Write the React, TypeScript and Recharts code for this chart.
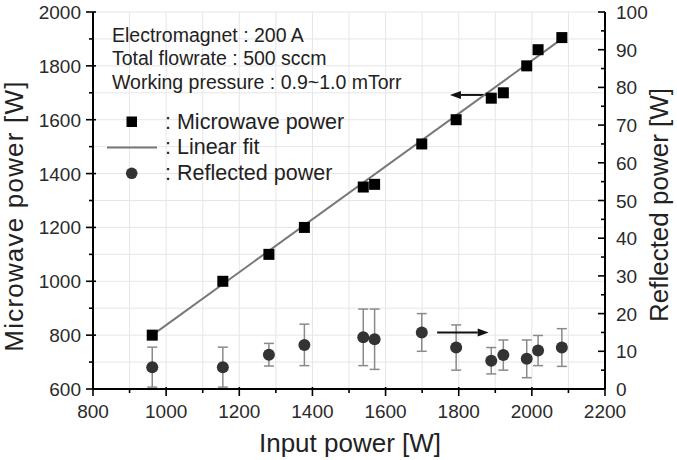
import React from 'react';
import {
  ComposedChart,
  Scatter,
  XAxis,
  YAxis,
  CartesianGrid,
  ErrorBar,
  ReferenceLine,
} from 'recharts';

// measured points
const inputPower = [962, 1155, 1281, 1378, 1539, 1570, 1699, 1793, 1889, 1922, 1986, 2017, 2082];
const microwavePower = [800, 1000, 1100, 1200, 1350, 1360, 1510, 1600, 1680, 1700, 1800, 1860, 1905];
const reflectedPower = [5.8, 5.8, 9.1, 11.7, 13.7, 13.2, 15, 11, 7.5, 9, 8, 10.2, 11];
const reflectedErr = [5.3, 5.3, 3, 5.5, 7.5, 8, 5, 6, 3.5, 4, 5, 4, 5];

// linear fit end points
const fitInput = [962, 2082];
const fitPower = [800, 1900];

// axis ticks (labels on every other one)
const xTicks = [800, 900, 1000, 1100, 1200, 1300, 1400, 1500, 1600, 1700, 1800, 1900, 2000, 2100, 2200];
const leftTicks = [600, 700, 800, 900, 1000, 1100, 1200, 1300, 1400, 1500, 1600, 1700, 1800, 1900, 2000];
const rightTicks = [0, 5, 10, 15, 20, 25, 30, 35, 40, 45, 50, 55, 60, 65, 70, 75, 80, 85, 90, 95, 100];

// arrows pointing at the axis each series belongs to
const leftArrow = { from: 1888, to: 1776, level: 1692 };
const rightArrow = { from: 1741, to: 1882, level: 15 };

const notes = ['Electromagnet : 200 A', 'Total flowrate : 500 sccm', 'Working pressure : 0.9~1.0 mTorr'];
const legendLabels = [': Microwave power', ': Linear fit', ': Reflected power'];

const squareData = inputPower.map((x, i) => ({ x, y: microwavePower[i] }));
const circleData = inputPower.map((x, i) => ({ x, y: reflectedPower[i], err: reflectedErr[i] }));
const fitData = fitInput.map((x, i) => ({ x, y: fitPower[i] }));

const FONT = '"Liberation Sans", Arial, Helvetica, sans-serif';
const TICK_COLOR = '#2a2a2a';
const W = 677;
const H = 460;

function BottomTick({ x, y, payload }: any) {
  const major = payload.value % 200 === 0;
  return (
    <g>
      <line x1={x} x2={x} y1={y - (major ? 2 : 0)} y2={y + (major ? 7 : 4)} stroke="#000" strokeWidth={1.6} />
      {major && (
        <text x={x} y={y + 29} textAnchor="middle" fontSize={19} fill={TICK_COLOR} fontFamily={FONT}>
          {payload.value}
        </text>
      )}
    </g>
  );
}

function TopTick({ x, y }: any) {
  return <line x1={x} x2={x} y1={y} y2={y + 5} stroke="#000" strokeWidth={1.6} />;
}

function LeftTick({ x, y, payload }: any) {
  const major = payload.value % 200 === 0;
  return (
    <g>
      <line x1={x - (major ? 7 : 4)} x2={x + (major ? 3 : 0)} y1={y} y2={y} stroke="#000" strokeWidth={1.6} />
      {major && (
        <text x={x - 12} y={y + 7} textAnchor="end" fontSize={19} fill={TICK_COLOR} fontFamily={FONT}>
          {payload.value}
        </text>
      )}
    </g>
  );
}

function RightTick({ x, y, payload }: any) {
  const major = payload.value % 10 === 0;
  return (
    <g>
      <line x1={x - (major ? 7 : 4)} x2={x} y1={y} y2={y} stroke="#000" strokeWidth={1.6} />
      {major && (
        <text x={x + 11} y={y + 7} textAnchor="start" fontSize={19} fill={TICK_COLOR} fontFamily={FONT}>
          {payload.value}
        </text>
      )}
    </g>
  );
}

function Arrow(props: any) {
  const { x1, y1, x2, y2 } = props;
  const dir = x2 > x1 ? 1 : -1;
  const head = 11;
  return (
    <g>
      <line x1={x1} y1={y1} x2={x2 - dir * head} y2={y2} stroke="#111" strokeWidth={2} />
      <polygon
        points={`${x2},${y2} ${x2 - dir * head},${y2 - 4} ${x2 - dir * head},${y2 + 4}`}
        fill="#111"
      />
    </g>
  );
}

const squareShape = (p: any) => (
  <rect x={p.cx - 5.5} y={p.cy - 5.5} width={11} height={11} fill="#000" />
);
const circleShape = (p: any) => <circle cx={p.cx} cy={p.cy} r={6} fill="#333" />;
const noShape = () => <g />;

export default function App() {
  return (
    <div style={{ position: 'relative', width: W, height: H, background: '#fff' }}>
      <style>{'body{margin:0}'}</style>
      <ComposedChart width={W} height={H} margin={{ top: 12, right: 0, bottom: 0, left: 0 }}>
        <CartesianGrid xAxisId="bottom" yAxisId="left" stroke="#e6e6e6" strokeWidth={1} />
        <XAxis
          xAxisId="bottom"
          dataKey="x"
          type="number"
          domain={[800, 2200]}
          ticks={xTicks}
          interval={0}
          height={71}
          tickSize={0}
          tickMargin={0}
          tickLine={false}
          tick={BottomTick}
          axisLine={{ stroke: '#000', strokeWidth: 2 }}
          allowDataOverflow
        />
        <XAxis
          xAxisId="top"
          orientation="top"
          dataKey="x"
          type="number"
          domain={[800, 2200]}
          ticks={xTicks}
          interval={0}
          height={0}
          tickSize={0}
          tickMargin={0}
          tickLine={false}
          tick={TopTick}
          axisLine={{ stroke: '#000', strokeWidth: 2 }}
          allowDataOverflow
        />
        <YAxis
          yAxisId="left"
          dataKey="y"
          type="number"
          domain={[600, 2000]}
          ticks={leftTicks}
          interval={0}
          width={93}
          tickSize={0}
          tickMargin={0}
          tickLine={false}
          tick={LeftTick}
          axisLine={{ stroke: '#000', strokeWidth: 2 }}
          allowDataOverflow
        />
        <YAxis
          yAxisId="right"
          orientation="right"
          dataKey="y"
          type="number"
          domain={[0, 100]}
          ticks={rightTicks}
          interval={0}
          width={72}
          tickSize={0}
          tickMargin={0}
          tickLine={false}
          tick={RightTick}
          axisLine={{ stroke: '#000', strokeWidth: 2 }}
          allowDataOverflow
        />
        <Scatter
          data={fitData}
          xAxisId="bottom"
          yAxisId="left"
          line={{ stroke: '#777', strokeWidth: 2 }}
          shape={noShape}
          isAnimationActive={false}
        />
        <Scatter
          data={circleData}
          xAxisId="bottom"
          yAxisId="right"
          shape={circleShape}
          isAnimationActive={false}
        >
          <ErrorBar dataKey="err" direction="y" width={5} stroke="#8a8a8a" strokeWidth={1.5} />
        </Scatter>
        <Scatter
          data={squareData}
          xAxisId="bottom"
          yAxisId="left"
          shape={squareShape}
          isAnimationActive={false}
        />
        <ReferenceLine
          xAxisId="bottom"
          yAxisId="left"
          segment={[
            { x: leftArrow.from, y: leftArrow.level },
            { x: leftArrow.to, y: leftArrow.level },
          ]}
          shape={Arrow}
        />
        <ReferenceLine
          xAxisId="bottom"
          yAxisId="right"
          segment={[
            { x: rightArrow.from, y: rightArrow.level },
            { x: rightArrow.to, y: rightArrow.level },
          ]}
          shape={Arrow}
        />
      </ComposedChart>

      <svg
        width={W}
        height={H}
        style={{ position: 'absolute', left: 0, top: 0, pointerEvents: 'none' }}
        fontFamily={FONT}
      >
        {/* condition notes */}
        {notes.map((t, i) => (
          <text key={t} x={112} y={42 + i * 23.3} fontSize={19.5} fill="#222">
            {t}
          </text>
        ))}

        {/* legend */}
        <rect x={126.5} y={116.5} width={10.5} height={10.5} fill="#000" />
        <line x1={107} x2={157} y1={147.5} y2={147.5} stroke="#777" strokeWidth={2} />
        <circle cx={131.7} cy={173.3} r={5.8} fill="#333" />
        {legendLabels.map((t, i) => (
          <text key={t} x={165} y={128.5 + i * 25.8} fontSize={21.5} fill="#222">
            {t}
          </text>
        ))}

        {/* axis titles */}
        <text x={350} y={452} textAnchor="middle" fontSize={26} fill="#222">
          Input power [W]
        </text>
        <text
          transform="translate(23,216) rotate(-90)"
          textAnchor="middle"
          fontSize={26}
          letterSpacing={1.2}
          fill="#222"
        >
          Microwave power [W]
        </text>
        <text
          transform="translate(668,205) rotate(-90)"
          textAnchor="middle"
          fontSize={26}
          fill="#222"
        >
          Reflected power [W]
        </text>
      </svg>
    </div>
  );
}
